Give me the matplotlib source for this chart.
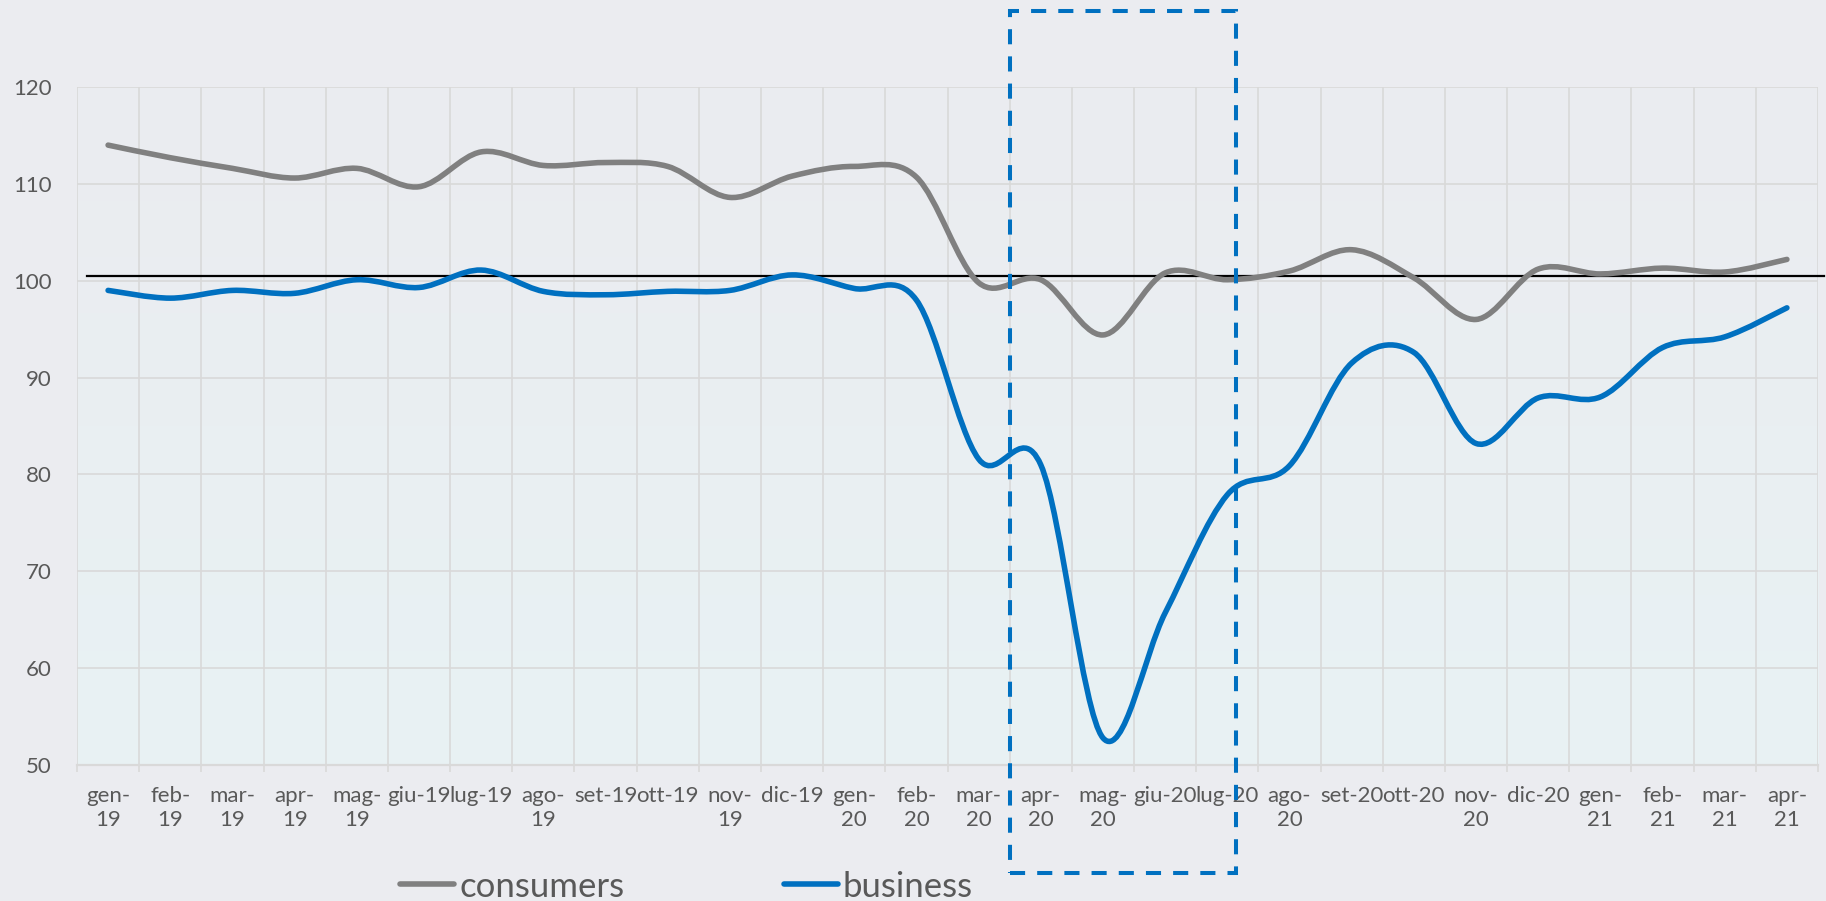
"""Consumers vs business index, gen-19 .. apr-21 (smoothed Excel-style lines)."""

import numpy as np
import matplotlib
matplotlib.use("Agg")
import matplotlib.pyplot as plt
from matplotlib.path import Path
from matplotlib.patches import PathPatch, Rectangle
from matplotlib.lines import Line2D

# ── Data ─────────────────────────────────────────────────────────────────────
MONTHS = [
    "gen-\n19", "feb-\n19", "mar-\n19", "apr-\n19", "mag-\n19", "giu-19", "lug-19",
    "ago-\n19", "set-19", "ott-19", "nov-\n19", "dic-19", "gen-\n20", "feb-\n20",
    "mar-\n20", "apr-\n20", "mag-\n20", "giu-20", "lug-20", "ago-\n20", "set-20",
    "ott-20", "nov-\n20", "dic-20", "gen-\n21", "feb-\n21", "mar-\n21", "apr-\n21",
]
CONSUMERS = [114.0, 112.7, 111.6, 110.6, 111.6, 109.7, 113.3, 111.9, 112.2, 111.8,
             108.6, 110.8, 111.8, 110.7, 99.8, 100.1, 94.4, 100.8, 100.1, 101.0,
             103.2, 100.3, 96.0, 101.2, 100.7, 101.3, 100.9, 102.2]
BUSINESS = [99.0, 98.2, 99.0, 98.7, 100.1, 99.3, 101.1, 98.9, 98.55, 98.9,
            99.0, 100.6, 99.2, 98.0, 81.6, 81.0, 52.8, 65.7, 77.9, 80.9,
            91.5, 92.6, 83.2, 87.9, 88.0, 93.1, 94.2, 97.2]
BASE_LEVEL = 100.5
Y_TICKS = [50, 60, 70, 80, 90, 100, 110, 120]

BG      = "#EBECF0"
GRID    = "#D9D9D9"
TXT     = "#595959"
C_CONS  = "#808080"
C_BUS   = "#0070C0"
FONT    = "Lato"
LW      = 4.0

plt.rcParams["font.family"] = [FONT, "DejaVu Sans"]


def smooth_path(values):
    """Catmull-Rom style Bezier through every point (like Excel's smoothed line)."""
    y = np.asarray(values, float)
    x = np.arange(len(y), dtype=float)
    yp = np.concatenate([[y[0]], y, [y[-1]]])
    xp = np.concatenate([[x[0]], x, [x[-1]]])
    verts = [(x[0], y[0])]
    codes = [Path.MOVETO]
    for i in range(len(y) - 1):
        c1 = (x[i] + (xp[i + 2] - xp[i]) / 6, y[i] + (yp[i + 2] - yp[i]) / 6)
        c2 = (x[i + 1] - (xp[i + 3] - xp[i + 1]) / 6,
              y[i + 1] - (yp[i + 3] - yp[i + 1]) / 6)
        verts += [c1, c2, (x[i + 1], y[i + 1])]
        codes += [Path.CURVE4] * 3
    return Path(verts, codes)


# ── Figure ───────────────────────────────────────────────────────────────────
W, H = 1826, 901
fig = plt.figure(figsize=(W / 100, H / 100), dpi=100, facecolor=BG)
ax = fig.add_axes([77 / W, 1 - 765 / H, (1818 - 77) / W, (765 - 87) / H])

n = len(MONTHS)
xlim = (-0.5, n - 0.5)
ylim = (Y_TICKS[0], Y_TICKS[-1])

# plot-area gradient: grey at top, faint teal at the bottom
top = np.array([235, 236, 240]) / 255
bot = np.array([232, 242, 244]) / 255
t = np.linspace(0, 1, 256)[:, None]
grad = (top * (1 - t) + bot * t)[:, None, :]
ax.imshow(grad, extent=[*xlim, *ylim], aspect="auto", origin="upper", zorder=0)

for vals, col in [(CONSUMERS, C_CONS), (BUSINESS, C_BUS)]:
    ax.add_patch(PathPatch(smooth_path(vals), fill=False, edgecolor=col,
                           lw=LW, capstyle="round", joinstyle="round", zorder=4))

# reference line at ~100 (a drawn shape in the original, runs past the plot)
ax.plot([0.006, 1.0035], [BASE_LEVEL, BASE_LEVEL], color="black", lw=1.6,
        transform=ax.get_yaxis_transform(), clip_on=False, zorder=3)

ax.set_xlim(*xlim)
ax.set_ylim(*ylim)
ax.set_xticks(np.arange(n))
ax.set_xticklabels(MONTHS, fontsize=16, color=TXT, linespacing=1.25)
ax.set_xticks(np.arange(-0.5, n, 1), minor=True)
ax.set_yticks(Y_TICKS)
ax.set_yticklabels([str(v) for v in Y_TICKS], fontsize=16, color=TXT)

ax.grid(which="minor", axis="x", color=GRID, lw=1.2, zorder=1)
ax.grid(which="major", axis="y", color=GRID, lw=1.2, zorder=1)
ax.grid(which="major", axis="x", visible=False)
ax.set_axisbelow(True)

ax.tick_params(axis="x", which="major", length=0, pad=15)
ax.tick_params(axis="x", which="minor", length=5, width=1.2, color=GRID)
ax.tick_params(axis="y", length=0, pad=18)

for side in ["top", "right", "left"]:
    ax.spines[side].set_visible(False)
ax.spines["bottom"].set_color(GRID)
ax.spines["bottom"].set_linewidth(1.6)

# legend
handles = [Line2D([], [], color=C_CONS, lw=LW, solid_capstyle="round"),
           Line2D([], [], color=C_BUS, lw=LW, solid_capstyle="round")]
fig.legend(handles, ["consumers", "business"], loc="center",
           bbox_to_anchor=(0.376, 0.016), ncol=2, frameon=False, fontsize=25,
           labelcolor=TXT, handlelength=1.55, handletextpad=0.15,
           columnspacing=4.6, borderpad=0)

# dashed highlight box around the lockdown months
box = Rectangle((1010 / W, 1 - 873 / H), (1236 - 1010) / W, (873 - 11) / H,
                transform=fig.transFigure, fill=False, edgecolor=C_BUS,
                lw=2.9, linestyle=(0, (3.75, 3)), zorder=10)
fig.add_artist(box)

fig.savefig("out.png", dpi=100, facecolor=fig.get_facecolor())
print("saved out.png")
